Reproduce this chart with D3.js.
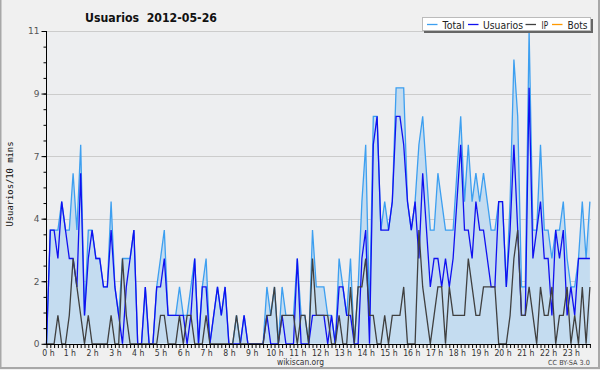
<!DOCTYPE html>
<html><head><meta charset="utf-8">
<script src="https://cdn.jsdelivr.net/npm/d3@7/dist/d3.min.js"></script>
<style>body{margin:0;background:#f0f0f0}svg{display:block}</style>
</head><body><svg id="c" width="600" height="370"></svg>
<script>
// 144 ten-minute slots, 2012-05-26
const hourLabels = ["0 h","1 h","2 h","3 h","4 h","5 h","6 h","7 h","8 h","9 h","10 h","11 h","12 h","13 h","14 h","15 h","16 h","17 h","18 h","19 h","20 h","21 h","22 h","23 h"];
const total = [
 0,4,4,4,5,4,4,6,4,7, 1,4,4,3,3,2,2,5,2,1, 3,3,3,4,0,0,2,0,0,2,
 3,4,1,1,1,2,1,1,2,3, 0,2,3,0,1,2,1,2,0,0, 1,0,1,0,0,0,0,0,2,1,
 2,0,2,1,1,1,3,1,1,0, 4,2,2,2,1,1,0,3,2,1, 3,0,2,5,7,1,8,8,4,5,
 4,5,9,9,9,5,4,5,7,8, 6,4,4,6,5,4,4,4,6,8, 5,7,5,6,5,6,5,4,4,5,
 5,2,5,10,8,2,2,11,4,4, 7,4,4,3,4,4,5,3,2,2, 3,5,3,5];
const usuarios = [
 0,4,4,3,5,4,3,3,2,6, 1,3,4,3,3,2,2,4,2,1, 0,2,3,4,0,0,2,0,0,2,
 2,3,1,1,1,1,1,0,1,3, 0,2,2,0,1,2,1,2,0,0, 0,0,1,0,0,0,0,0,1,0,
 0,0,1,0,0,0,3,0,0,0, 1,1,1,1,0,1,0,2,2,1, 1,0,0,3,4,0,7,8,4,4,
 4,5,8,8,7,5,4,5,3,6, 4,2,3,3,2,3,2,3,5,7, 4,4,3,5,4,4,3,2,2,5,
 5,2,4,7,4,1,1,9,3,4, 5,3,3,1,4,3,4,1,2,1, 3,3,3,3];
const ip = [
 0,0,0,1,0,0,1,3,2,1, 0,1,0,0,0,0,0,1,0,0, 3,1,0,0,0,0,0,0,0,0,
 1,1,0,0,0,1,0,1,1,0, 0,0,1,0,0,0,0,0,0,0, 1,0,0,0,0,0,0,0,1,1,
 2,0,1,1,1,1,0,1,1,0, 3,1,1,1,1,0,0,1,0,0, 2,0,2,2,3,1,1,0,0,1,
 0,1,1,1,2,0,0,0,4,2, 1,0,1,2,2,0,2,1,1,1, 1,3,2,1,1,2,2,2,2,0,
 0,0,1,3,4,1,1,2,1,0, 2,1,1,2,0,1,1,2,0,1, 0,2,0,2];
const yTickValues = [0, 2.2, 4.4, 6.6, 8.8, 11];
const yTickLabels = ["0", "2", "4", "7", "9", "11"];
const legendNames = ["Total", "Usuarios", "IP", "Bots"];
const legendColors = ["#3d9ff0", "#1010f0", "#404040", "#ff9900"];

const svg = d3.select("#c");
const FONT = "'DejaVu Sans', Verdana, sans-serif";

svg.append("rect").attr("width",600).attr("height",370).attr("fill","#f0f0f0");
svg.append("rect").attr("x",0.5).attr("y",-2).attr("width",598.5).attr("height",370)
  .attr("fill","none").attr("stroke","#a8a8a8").attr("stroke-width",2);

const x = d3.scaleLinear().domain([0, 143]).range([46.5, 589.9]);
const y = d3.scaleLinear().domain([0, 11]).range([343.8, 31]);

svg.append("rect").attr("x",46).attr("y",31).attr("width",545).attr("height",313).attr("fill","#edeef0");

svg.append("g").selectAll("line").data(yTickValues.slice(1)).join("line")
  .attr("x1",46).attr("x2",591).attr("y1",d=>Math.round(y(d))+0.5).attr("y2",d=>Math.round(y(d))+0.5)
  .attr("stroke","#cccccc").attr("stroke-width",1);

const idx = d3.range(total.length);
const area = d3.area().x(i=>x(i)).y0(y(0)).y1(i=>y(total[i]));
svg.append("path").datum(idx).attr("d",area).attr("fill","#c4dcf0");

const line = arr => d3.line().x(i=>x(i)).y(i=>y(arr[i]));
svg.append("path").datum(idx).attr("d",line(total)).attr("fill","none").attr("stroke",legendColors[0]).attr("stroke-width",1.3);
svg.append("path").datum(idx).attr("d",line(usuarios)).attr("fill","none").attr("stroke",legendColors[1]).attr("stroke-width",1.3);
svg.append("path").datum(idx).attr("d",line(ip)).attr("fill","none").attr("stroke",legendColors[2]).attr("stroke-width",1.3);

// y axis
const minor = d3.range(0, 11.0001, 0.55);
const gy = svg.append("g").attr("transform","translate(46.5,0)");
gy.call(d3.axisLeft(y).tickValues(minor).tickSize(3).tickFormat(""));
gy.call(g=>g.select(".domain").remove());
const gy2 = svg.append("g").attr("transform","translate(46.5,0)");
gy2.call(d3.axisLeft(y).tickValues(yTickValues).tickSize(5).tickFormat((d,i)=>yTickLabels[i]));
gy2.selectAll("text").attr("font-family",FONT).attr("font-size",9).attr("fill","#555").attr("x",-7);
gy2.select(".domain").attr("d","M0,31V344");
svg.selectAll("g .tick line").attr("stroke","#000");

// x axis
const gx = svg.append("g").attr("transform","translate(0,344)");
gx.call(d3.axisBottom(x).tickValues(idx).tickSize(4).tickFormat(""));
gx.select(".domain").attr("d","M46,0.5H591");
const gxl = svg.append("g").attr("transform","translate(0,344)");
gxl.call(d3.axisBottom(x).tickValues(d3.range(0,144,6)).tickSize(0).tickFormat((d,i)=>hourLabels[i]));
gxl.select(".domain").remove();
gxl.selectAll("text").attr("font-family",FONT).attr("font-size",9).attr("fill","#333").attr("dy",0).attr("y",11.5)
  .each(function(){ const w=this.getComputedTextLength(); d3.select(this).attr("textLength",w*0.86).attr("lengthAdjust","spacingAndGlyphs"); });
gxl.selectAll(".tick").attr("transform",function(){ const t=d3.select(this).attr("transform"); return t; });
gxl.select(".tick text").attr("dx",1.5);

// title
svg.append("text").attr("x",85).attr("y",21.5).attr("font-family",FONT).attr("font-weight","bold")
  .attr("font-size",13).attr("fill","#111").attr("textLength",132).attr("lengthAdjust","spacingAndGlyphs")
  .attr("xml:space","preserve").text("Usuarios  2012-05-26");

// y label
svg.append("text").attr("transform","translate(13,184) rotate(-90)").attr("text-anchor","middle")
  .attr("font-family","'DejaVu Sans Mono', monospace").attr("font-size",9.5).attr("fill","#111")
  .attr("textLength",85).attr("lengthAdjust","spacingAndGlyphs").text("Usuarios/10 mins");

// footer
svg.append("text").attr("x",277).attr("y",364.5).attr("font-family",FONT).attr("font-size",9).attr("fill","#333")
  .attr("textLength",47).attr("lengthAdjust","spacingAndGlyphs").text("wikiscan.org");
svg.append("text").attr("x",548).attr("y",364.5).attr("font-family",FONT).attr("font-size",7).attr("fill","#444")
  .attr("textLength",42).attr("lengthAdjust","spacingAndGlyphs").text("CC BY-SA 3.0");

// legend
const lg = svg.append("g");
lg.append("rect").attr("x",424).attr("y",19).attr("width",169).attr("height",14).attr("fill","#666");
lg.append("rect").attr("x",422.5).attr("y",17.5).attr("width",168).attr("height",13).attr("fill","#fff").attr("stroke","#bbb");
const lx = [427, 468, 525.5, 552];
const tx = [442.5, 483, 541.5, 567.5];
const tw = [22, 40, 6.5, 20];
legendNames.forEach((n,i)=>{
  lg.append("line").attr("x1",lx[i]).attr("x2",lx[i]+10.5).attr("y1",24.5).attr("y2",24.5).attr("stroke",legendColors[i]).attr("stroke-width",1.3);
  lg.append("text").attr("x",tx[i]).attr("y",28.5).attr("font-family",FONT).attr("font-size",10).attr("fill","#222")
    .attr("textLength",tw[i]).attr("lengthAdjust","spacingAndGlyphs").text(n);
});
</script></body></html>
